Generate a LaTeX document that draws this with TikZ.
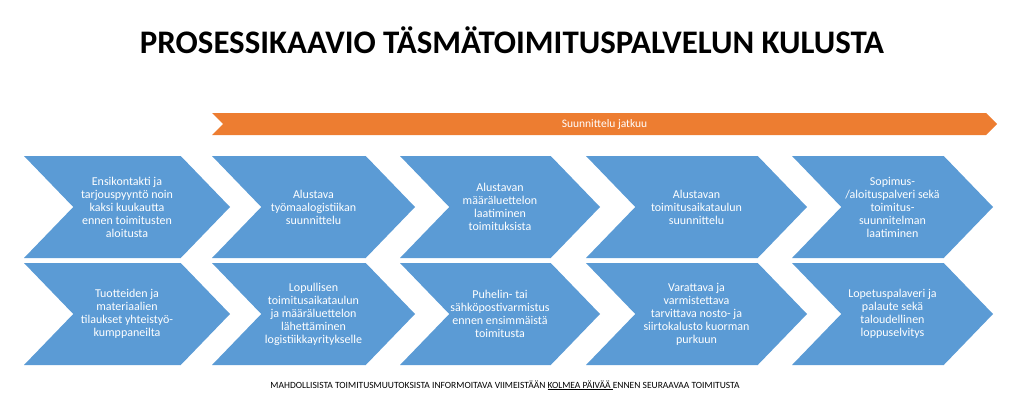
\documentclass[tikz,border=0pt]{standalone}
\usepackage{fontspec}
\setmainfont{Carlito}
\usepackage{xcolor}
\usepackage{tikz}
\usetikzlibrary{shapes}
\definecolor{stepblue}{HTML}{5B9BD5}
\definecolor{barorange}{HTML}{ED7D31}
\pgfkeys{tikz/mychevron/.style={signal,signal from=west,signal to=east,signal pointer angle=92,fill=stepblue,text=white,align=center,minimum height=102pt,inner sep=1pt,font=\fontsize{12}{13}\selectfont}}
\pgfkeys{tikz/mybar/.style={signal,signal from=west,signal to=east,signal pointer angle=90,fill=barorange,text=white,minimum height=22pt,inner sep=0pt,font=\fontsize{11.5}{13}\selectfont}}

\begin{document}
\begin{tikzpicture}[x=1pt,y=-1pt]
  \useasboundingbox (0,0) rectangle (1024,415);
  \node[anchor=base,font=\bfseries\fontsize{32.9}{36}\selectfont] (title) at (512,53) {PROSESSIKAAVIO TÄSMÄTOIMITUSPALVELUN KULUSTA};

  \node[mybar,minimum width=785pt] (jatkuu) at (604.5,124) {Suunnittelu jatkuu};

  % ylarivi
  \node[mychevron,minimum width=206pt] (s1) at (127,207) {Ensikontakti ja\\tarjouspyyntö noin\\kaksi kuukautta\\ennen toimitusten\\aloitusta};
  \node[mychevron,minimum width=203pt] (s2) at (313.5,207) {Alustava\\työmaalogistiikan\\suunnittelu};
  \node[mychevron,minimum width=200pt] (s3) at (500,207) {Alustavan\\määräluettelon\\laatiminen\\toimituksista};
  \node[mychevron,minimum width=221pt] (s4) at (696.5,207) {Alustavan\\toimitusaikataulun\\suunnittelu};
  \node[mychevron,minimum width=201pt] (s5) at (892.5,207) {Sopimus-\\/aloituspalveri sekä\\toimitus-\\suunnitelman\\laatiminen};

  % alarivi
  \node[mychevron,minimum width=206pt] (t1) at (127,314) {Tuotteiden ja\\materiaalien\\tilaukset yhteistyö-\\kumppaneilta};
  \node[mychevron,minimum width=203pt] (t2) at (313.5,314) {Lopullisen\\toimitusaikataulun\\ja määräluettelon\\lähettäminen\\logistiikkayritykselle};
  \node[mychevron,minimum width=200pt] (t3) at (500,314) {Puhelin- tai\\sähköpostivarmistus\\ennen ensimmäistä\\toimitusta};
  \node[mychevron,minimum width=221pt] (t4) at (696.5,314) {Varattava ja\\varmistettava\\tarvittava nosto- ja\\siirtokalusto kuorman\\purkuun};
  \node[mychevron,minimum width=201pt] (t5) at (892.5,314) {Lopetuspalaveri ja\\palaute sekä\\taloudellinen\\loppuselvitys};

  \node[anchor=base,font=\fontsize{9.5}{11}\selectfont] (huom) at (505,388) {MAHDOLLISISTA TOIMITUSMUUTOKSISTA INFORMOITAVA VIIMEISTÄÄN \underline{KOLMEA PÄIVÄÄ }ENNEN SEURAAVAA TOIMITUSTA};
\end{tikzpicture}
\end{document}
